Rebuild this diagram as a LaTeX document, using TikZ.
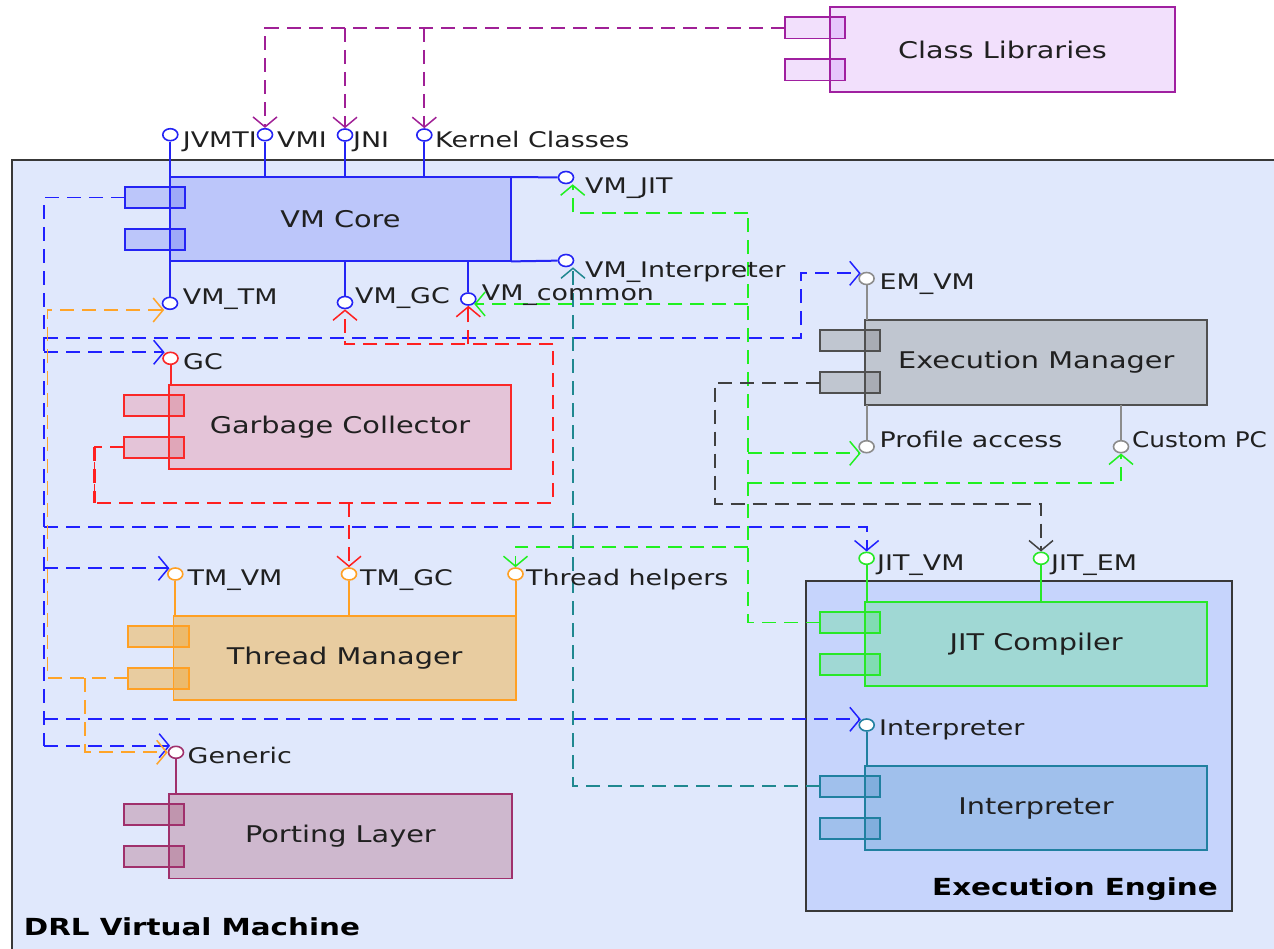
\documentclass[tikz,border=0pt]{standalone}
\usepackage{fontspec}
\usetikzlibrary{arrows.meta,shapes.geometric}
\newfontfamily\lblfont[FakeStretch=1.25]{DejaVu Sans}
\newfontfamily\narrowfont[FakeStretch=1.15]{DejaVu Sans}

% frame and background colours
\definecolor{bgvm}{RGB}{224,232,252}
\definecolor{bgee}{RGB}{198,212,252}
\definecolor{frame}{RGB}{56,56,56}
\definecolor{txt}{RGB}{32,32,32}
% component colours: fill, border, port overlap
\definecolor{vmfill}{RGB}{188,198,250}\definecolor{vmline}{RGB}{36,36,244}\definecolor{vmdark}{RGB}{158,169,248}
\definecolor{gcfill}{RGB}{228,196,216}\definecolor{gcline}{RGB}{250,40,40}\definecolor{gcdark}{RGB}{224,166,184}
\definecolor{tmfill}{RGB}{232,204,160}\definecolor{tmline}{RGB}{255,160,36}\definecolor{tmdark}{RGB}{236,186,108}
\definecolor{plfill}{RGB}{206,184,206}\definecolor{plline}{RGB}{160,48,108}\definecolor{pldark}{RGB}{192,149,174}
\definecolor{emfill}{RGB}{192,198,208}\definecolor{emline}{RGB}{80,80,80}\definecolor{emdark}{RGB}{168,172,180}
\definecolor{emlink}{RGB}{140,140,140}
\definecolor{jitfill}{RGB}{160,216,212}\definecolor{jitline}{RGB}{40,232,40}\definecolor{jitdark}{RGB}{129,220,178}
\definecolor{infill}{RGB}{160,192,236}\definecolor{inline}{RGB}{32,128,160}\definecolor{indark}{RGB}{129,174,221}
\definecolor{clfill}{RGB}{242,224,252}\definecolor{clline}{RGB}{160,32,160}\definecolor{cldark}{RGB}{230,197,252}
% dependency colours
\definecolor{dblue}{RGB}{32,32,255}
\definecolor{dred}{RGB}{255,32,32}
\definecolor{dgreen}{RGB}{32,240,32}
\definecolor{dteal}{RGB}{32,136,144}
\definecolor{dgray}{RGB}{64,64,64}
\definecolor{dorange}{RGB}{255,164,40}
\definecolor{dpurple}{RGB}{160,32,150}

\tikzset{
  compbox/.style={rectangle, inner sep=0pt, minimum height=84pt, draw=none},
  portbox/.style={rectangle, inner sep=0pt, minimum width=60pt, minimum height=21pt, draw=none},
  lolli/.style={ellipse, draw, fill=white, line width=1.6pt, minimum width=15pt, minimum height=12pt, inner sep=0pt},
  stem/.style={line width=2pt},
  lbl/.style={anchor=base west, inner sep=0pt, text=txt, font=\lblfont\fontsize{21.5}{24}\selectfont},
  complbl/.style={inner sep=0pt, text=txt, font=\lblfont\fontsize{23}{26}\selectfont},
  ttl/.style={inner sep=0pt, text=black, font=\lblfont\bfseries\fontsize{23.5}{27}\selectfont},
  depline/.style={dash pattern=on 14pt off 8pt, line width=1.9pt},
  dep/.style={depline, -{Straight Barb[length=10pt,width=24pt,line width=1.5pt]}},
}

% component with two ports on its left side
% #1 name, #2 x, #3 y, #4 width, #5 text, #6 fill, #7 border, #8 overlap
\newcommand\umlcomp[8]{%
  \node[compbox, minimum width=#4pt, fill=#6] (#1) at (#2,#3) {};
  \node[portbox, fill=#6] (#1a) at ([shift={(-15,20.5)}]#1.north west) {};
  \node[portbox, fill=#6] (#1b) at ([shift={(-15,62.5)}]#1.north west) {};
  \begin{scope}
    \clip (#1.north west) rectangle (#1.south east);
    \fill[#8] (#1a.north west) rectangle (#1a.south east);
    \fill[#8] (#1b.north west) rectangle (#1b.south east);
  \end{scope}
  \draw[#7, line width=1.9pt] (#1.north west) rectangle (#1.south east);
  \draw[#7, line width=1.9pt] (#1a.north west) rectangle (#1a.south east);
  \draw[#7, line width=1.9pt] (#1b.north west) rectangle (#1b.south east);
  \node[complbl] (#1t) at (#1) {#5};
}
% provided interface circle
\newcommand\lollipop[4]{\node[lolli, draw=#4] (#1) at (#2,#3) {};}

\begin{document}
\begin{tikzpicture}[x=1pt, y=-1pt]
\useasboundingbox (0,0) rectangle (1274,948);
\fill[white] (0,0) rectangle (1274,948);

% subsystems
\draw[frame, line width=2pt, fill=bgvm] (11.7,160) rectangle (1300,980);
\draw[frame, line width=2pt, fill=bgee] (806,581) rectangle (1232,911);
\node[ttl, anchor=base east] (eetitle) at (1218,895) {Execution Engine};
\node[ttl, anchor=base west] (vmtitle) at (23.7,935) {DRL Virtual Machine};

% components
\umlcomp{cl}{1002.5}{49.5}{345}{Class Libraries}{clfill}{clline}{cldark}
\umlcomp{vmcore}{340.5}{219.2}{341}{VM Core}{vmfill}{vmline}{vmdark}
\umlcomp{gc}{340}{427}{342}{Garbage Collector}{gcfill}{gcline}{gcdark}
\umlcomp{tm}{344.7}{658}{342}{Thread Manager}{tmfill}{tmline}{tmdark}
\umlcomp{pl}{340.4}{836.3}{342}{Porting Layer}{plfill}{plline}{pldark}
\umlcomp{em}{1036.2}{362.4}{342}{Execution Manager}{emfill}{emline}{emdark}
\umlcomp{jit}{1036.2}{644.2}{342}{JIT Compiler}{jitfill}{jitline}{jitdark}
\umlcomp{interp}{1036}{808}{342}{Interpreter}{infill}{inline}{indark}

% interfaces
\lollipop{jvmti}{170.3}{134.7}{vmline}
\lollipop{vmi}{265}{134.7}{vmline}
\lollipop{jni}{345}{135}{vmline}
\lollipop{kc}{424.3}{135}{vmline}
\lollipop{vmjit}{566}{177.5}{vmline}
\lollipop{vminterp}{566}{260.5}{vmline}
\lollipop{vmtm}{170}{303.3}{vmline}
\lollipop{vmgc}{345}{302.5}{vmline}
\lollipop{vmcommon}{468.3}{299}{vmline}
\lollipop{gcl}{170.5}{358.3}{gcline}
\lollipop{tmvm}{175.3}{574}{tmline}
\lollipop{tmgc}{349}{574}{tmline}
\lollipop{thelp}{515.5}{574}{tmline}
\lollipop{generic}{176}{752.3}{plline}
\lollipop{emvm}{866.6}{278.5}{emlink}
\lollipop{profacc}{866.6}{446.7}{emlink}
\lollipop{custpc}{1121}{446.7}{emlink}
\lollipop{jitvm}{866.6}{558.3}{jitline}
\lollipop{jitem}{1041}{558.3}{jitline}
\lollipop{interpl}{866.7}{725}{inline}

% interface stems
\begin{scope}[stem, vmline]
  \draw (vmcore.north -| jvmti) -- (jvmti);
  \draw (vmcore.north -| vmi) -- (vmi);
  \draw (vmcore.north -| jni) -- (jni);
  \draw (vmcore.north -| kc) -- (kc);
  \draw (vmcore.north east) -- (vmjit);
  \draw (vmcore.south east) -- (vminterp);
  \draw (vmcore.south -| vmtm) -- (vmtm);
  \draw (vmcore.south -| vmgc) -- (vmgc);
  \draw (vmcore.south -| vmcommon) -- (vmcommon);
\end{scope}
\draw[stem, gcline] (gc.north -| gcl) -- (gcl);
\begin{scope}[stem, tmline]
  \draw (tm.north -| tmvm) -- (tmvm);
  \draw (tm.north -| tmgc) -- (tmgc);
  \draw (tm.north -| thelp) -- (thelp);
\end{scope}
\draw[stem, plline] (pl.north -| generic) -- (generic);
\begin{scope}[stem, emlink]
  \draw (em.north -| emvm) -- (emvm);
  \draw (em.south -| profacc) -- (profacc);
  \draw (em.south -| custpc) -- (custpc);
\end{scope}
\begin{scope}[stem, jitline]
  \draw (jit.north -| jitvm) -- (jitvm);
  \draw (jit.north -| jitem) -- (jitem);
\end{scope}
\draw[stem, inline] (interp.north -| interpl) -- (interpl);

% trunk points of the dependency trees
\coordinate (btrunk) at (44.3,197.7);
\coordinate (gtrunk) at (748.3,212.7);
\coordinate (rtop) at (553.3,344.3);
\coordinate (rbot) at (94.5,503.3);
\coordinate (otrunk) at (47.5,310);

% VM Core uses
\begin{scope}[dblue]
  \draw[depline] (vmcorea.west) -| (btrunk |- 0,745.7);
  \draw[dep] (btrunk |- 0,338.3) -| (801,273.3) -- (emvm.north west |- 0,273.3);
  \draw[dep] (btrunk |- 0,352.3) -- (gcl.north west |- 0,352.3);
  \draw[dep] (btrunk |- 0,526.7) -| (jitvm.north);
  \draw[dep] (btrunk |- 0,568.3) -- (tmvm.north west |- 0,568.3);
  \draw[dep] (btrunk |- 0,719.3) -- (interpl.north west |- 0,719.3);
  \draw[dep] (btrunk |- 0,745.7) -- (generic.north west |- 0,745.7);
\end{scope}

% Garbage Collector uses
\begin{scope}[dred]
  \draw[depline] (gcb.west) -| (rbot) -| (rtop);
  \draw[depline, line width=3pt] (gcb.west -| rbot) -- (rbot);
  \draw[dep] (rtop) -| (vmgc.south);
  \draw[dep] (rtop -| vmcommon) -- (vmcommon.south);
  \draw[dep] (rbot -| tmgc) -- (tmgc.north);
\end{scope}

% JIT Compiler uses
\begin{scope}[dgreen]
  \draw[depline] (jita.west) -| (gtrunk);
  \draw[dep] (gtrunk) -| (vmjit.south -| 572.7,0);
  \draw[dep] (gtrunk |- 0,304) -- (vmcommon.south east |- 0,304);
  \draw[dep] (gtrunk |- 0,453.3) -- (profacc.south west |- 0,453.3);
  \draw[dep] (gtrunk |- 0,482.7) -| (custpc.south);
  \draw[dep] (gtrunk |- 0,546.7) -| (thelp.north);
\end{scope}

% Interpreter uses
\draw[dep, dteal] (interpa.west) -| (vminterp.south -| 573,0);

% Execution Manager uses
\draw[dep, dgray] (emb.west) -| (714.8,504) -| (jitem.north);

% Thread Manager uses
\begin{scope}[dorange]
  \draw[dep] (tmb.west) -| (otrunk) -- (vmtm.south west |- otrunk);
  \draw[dep] (tmb.west -| 85,0) |- (generic.west);
\end{scope}

% Class Libraries use
\begin{scope}[dpurple]
  \draw[dep] (cla.west) -| (vmi.north);
  \draw[dep] (cla.west -| jni) -- (jni.north);
  \draw[dep] (cla.west -| kc) -- (kc.north);
\end{scope}

% interface names
\node[lbl] (l1) at (182.7,147) {JVMTI};
\node[lbl] (l2) at (277,147) {VMI};
\node[lbl] (l3) at (353,147) {JNI};
\node[lbl] (l4) at (435,147) {Kernel Classes};
\node[lbl] (l5) at (585,193) {VM\_JIT};
\node[lbl] (l6) at (585,277) {VM\_Interpreter};
\node[lbl] (l7) at (182.7,304) {VM\_TM};
\node[lbl] (l8) at (355,303) {VM\_GC};
\node[lbl] (l9) at (481.7,300) {VM\_common};
\node[lbl] (l10) at (183,369) {GC};
\node[lbl] (l11) at (879.5,289) {EM\_VM};
\node[lbl] (l12) at (879.5,447) {Profile access};
\node[lbl, font=\narrowfont\fontsize{21.5}{24}\selectfont] (l13) at (1132,447) {Custom PC};
\node[lbl] (l14) at (187.5,585.7) {TM\_VM};
\node[lbl] (l15) at (360,585.7) {TM\_GC};
\node[lbl] (l16) at (526,585.7) {Thread helpers};
\node[lbl] (l17) at (877,570) {JIT\_VM};
\node[lbl] (l18) at (1051,570) {JIT\_EM};
\node[lbl] (l19) at (879,735.7) {Interpreter};
\node[lbl] (l20) at (187.5,763) {Generic};
\end{tikzpicture}
\end{document}
